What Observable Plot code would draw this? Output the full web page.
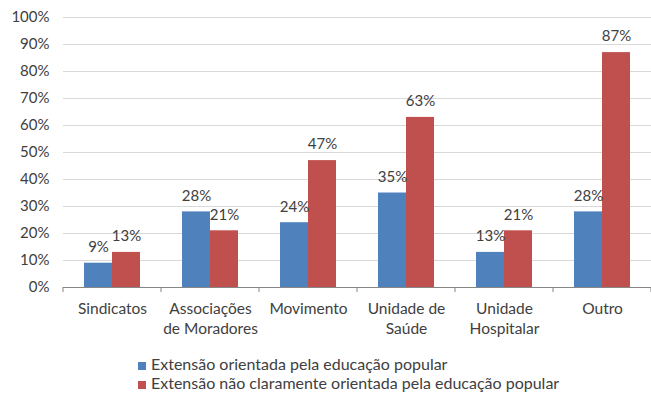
<!DOCTYPE html>
<html>
<head>
<meta charset="utf-8">
<script src="https://cdn.jsdelivr.net/npm/d3@7"></script>
<script src="https://cdn.jsdelivr.net/npm/@observablehq/plot@0.6"></script>
<style>
  body { margin: 0; background: #fff; font-family: Lato, sans-serif; }
  #chart svg { display: block; }
  .legend { margin: 14px 0 0 138px; font-size: 16px; color: #404040; }
  .legend div { height: 19px; line-height: 19px; white-space: nowrap; }
  .legend span.sw { display: inline-block; width: 8px; height: 8px; margin-right: 5px; vertical-align: 0px; }
</style>
</head>
<body>
<div id="chart"></div>
<script>
const categories = ["Sindicatos", "Associações\nde Moradores", "Movimento", "Unidade de\nSaúde", "Unidade\nHospitalar", "Outro"];
const seriesNames = ["Extensão orientada pela educação popular", "Extensão não claramente orientada pela educação popular"];
const seriesColors = ["#4F81BD", "#C0504D"];
const valuesOrientada = [9, 28, 24, 35, 13, 28];
const valuesNaoOrientada = [13, 21, 47, 63, 21, 87];
const yTicks = [0, 10, 20, 30, 40, 50, 60, 70, 80, 90, 100];

const rows = [];
categories.forEach((c, i) => {
  rows.push({category: c, series: seriesNames[0], value: valuesOrientada[i]});
  rows.push({category: c, series: seriesNames[1], value: valuesNaoOrientada[i]});
});

const plot = Plot.plot({
  width: 651,
  height: 340,
  marginLeft: 62,
  marginRight: 0,
  marginTop: 17,
  marginBottom: 53,
  style: {fontFamily: "Lato, sans-serif", fontSize: "15px", color: "#404040", background: "#fff"},
  fx: {domain: categories, padding: 0, label: null, axis: null},
  x: {domain: seriesNames, paddingInner: 0, paddingOuter: 0.75, axis: null},
  y: {domain: [0, 100], ticks: yTicks, tickFormat: d => d + "%", label: null, tickSize: 0, tickPadding: 14},
  color: {domain: seriesNames, range: seriesColors},
  marks: [
    Plot.gridY(yTicks, {stroke: "#d9d9d9", strokeOpacity: 1}),
    Plot.ruleY([0], {stroke: "#868686"}),
    Plot.barY(rows, {fx: "category", x: "series", y: "value", fill: "series"}),
    Plot.text(rows, {fx: "category", x: "series", y: "value", text: d => d.value + "%", dy: -16, fontSize: 15, fill: "#404040"}),
    Plot.axisFx({anchor: "bottom", tickSize: 0, tickPadding: 12, lineHeight: 1.3, fontSize: 15.5, label: null})
  ]
});

// Excel-style tick marks at category boundaries, from the fx scale
const fx = plot.scale("fx");
const y = plot.scale("y");
const bw = fx.bandwidth;
const y0 = y.apply(0);
const bounds = categories.map(c => fx.apply(c)).concat([fx.apply(categories[categories.length - 1]) + bw]);
d3.select(plot).append("g").attr("stroke", "#868686")
  .selectAll("line").data(bounds).join("line")
  .attr("x1", d => d).attr("x2", d => d)
  .attr("y1", y0).attr("y2", y0 + 5);

document.getElementById("chart").append(plot);

const legend = document.createElement("div");
legend.className = "legend";
seriesNames.forEach((s, i) => {
  const row = document.createElement("div");
  const sw = document.createElement("span");
  sw.className = "sw";
  sw.style.background = seriesColors[i];
  row.append(sw, document.createTextNode(s));
  legend.append(row);
});
document.body.append(legend);
</script>
</body>
</html>
